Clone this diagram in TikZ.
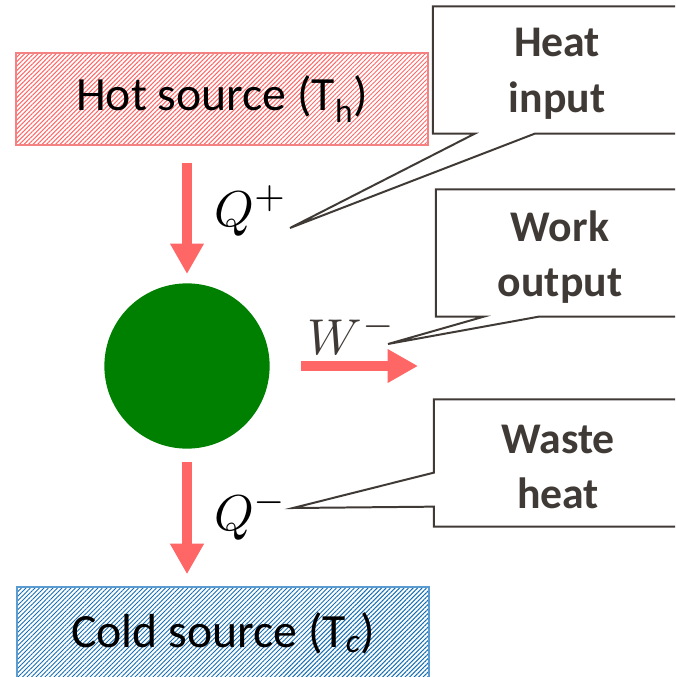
\documentclass[tikz,border=0pt]{standalone}
\usepackage{graphicx}
\usepackage{fontspec}
\setmainfont{Carlito}
\usepackage{tikz}
\usetikzlibrary{
    positioning,
    arrows.meta,
    patterns.meta,
    calc
}

\definecolor{heatred}{RGB}{255,102,102}
\definecolor{hotedge}{RGB}{245,130,130}
\definecolor{coldblue}{RGB}{20,110,180}
\definecolor{coldedge}{RGB}{90,155,210}
\definecolor{enginegreen}{RGB}{0,128,0}
\definecolor{notegray}{RGB}{64,58,54}

\newcommand{\bigmath}[1]{\scalebox{3.8}{$#1$}}

\begin{document}
\begin{tikzpicture}[x=0.0265cm, y=-0.0265cm,
    source/.style={draw, line width=1pt, minimum width=10.92cm, minimum height=2.44cm,
                   inner sep=0pt, font=\fontsize{36}{40}\selectfont},
    hatch/.style={pattern={Lines[angle=45, distance=2.4pt, line width=0.75pt]}, pattern color=#1},
    flow/.style={-{Triangle[width=24pt, length=23pt]}, line width=7.2pt, draw=heatred},
    note/.style={minimum width=6.57cm, minimum height=3.36cm},
    notetext/.style={align=center, text=notegray, yshift=-3pt,
                     font=\fontsize{33}{42}\selectfont\bfseries},
    callout/.style={draw=notegray, line width=1.5pt},
    qlabel/.style={inner sep=0pt}]

    \useasboundingbox (0,0) rectangle (675,677);
    \clip (0,0) rectangle (675,677);

    % Reservoirs and engine
    \node[source, draw=hotedge, hatch=heatred] (hot) at (222,99)
      {Hot source (T\textsubscript{h})};
    \node[source, draw=coldedge, hatch=coldblue] (cold) at (223,633)
      {Cold source (T\textsubscript{\textit{c}})};
    \node[circle, fill=enginegreen, minimum size=4.38cm, inner sep=0pt] (engine) at (187,366) {};

    % Energy flows
    \coordinate (wend) at (418,366);
    \draw[flow, shorten <=0.45cm, shorten >=0.24cm] (engine |- hot.south) -- (engine.north);
    \draw[flow, shorten <=0.34cm, shorten >=0.32cm] (engine.south) -- (engine |- cold.north);
    \draw[flow, shorten <=0.82cm] (engine.east) -- (wend);

    \node[qlabel] (qin) at (251,211) {\bigmath{Q^+}};
    \node[qlabel, text=notegray] (wout) at (352,334) {\bigmath{W^-}};
    \node[qlabel] (qout) at (251,515) {\bigmath{Q^-}};

    % === Callouts ===
    \node[note, label={[notetext]center:{Heat\\input}}] (heatnote) at (557,70) {};
    \node[note, label={[notetext]center:{Work\\output}}] (worknote) at (560,253) {};
    \node[note, label={[notetext]center:{Waste\\heat}}] (wastenote) at (558,463) {};

    \coordinate (heattip) at (290,228);
    \coordinate (worktip) at (388,344);
    \coordinate (wastetip) at (293,508);

    \draw[callout] (heatnote.north west) -- (heatnote.north east) -- (heatnote.south east)
      -- ($(heatnote.south west)+(102,0)$) -- (heattip) -- ($(heatnote.south west)+(42,0)$)
      -- (heatnote.south west) -- cycle;
    \draw[callout] (worknote.north west) -- (worknote.north east) -- (worknote.south east)
      -- ($(worknote.south west)+(103,0)$) -- (worktip) -- ($(worknote.south west)+(48,0)$)
      -- (worknote.south west) -- cycle;
    \draw[callout] (wastenote.north west) -- (wastenote.north east) -- (wastenote.south east)
      -- (wastenote.south west) -- ($(wastenote.south west)+(0,-20)$) -- (wastetip)
      -- ($(wastenote.south west)+(0,-54)$) -- cycle;

\end{tikzpicture}
\end{document}
